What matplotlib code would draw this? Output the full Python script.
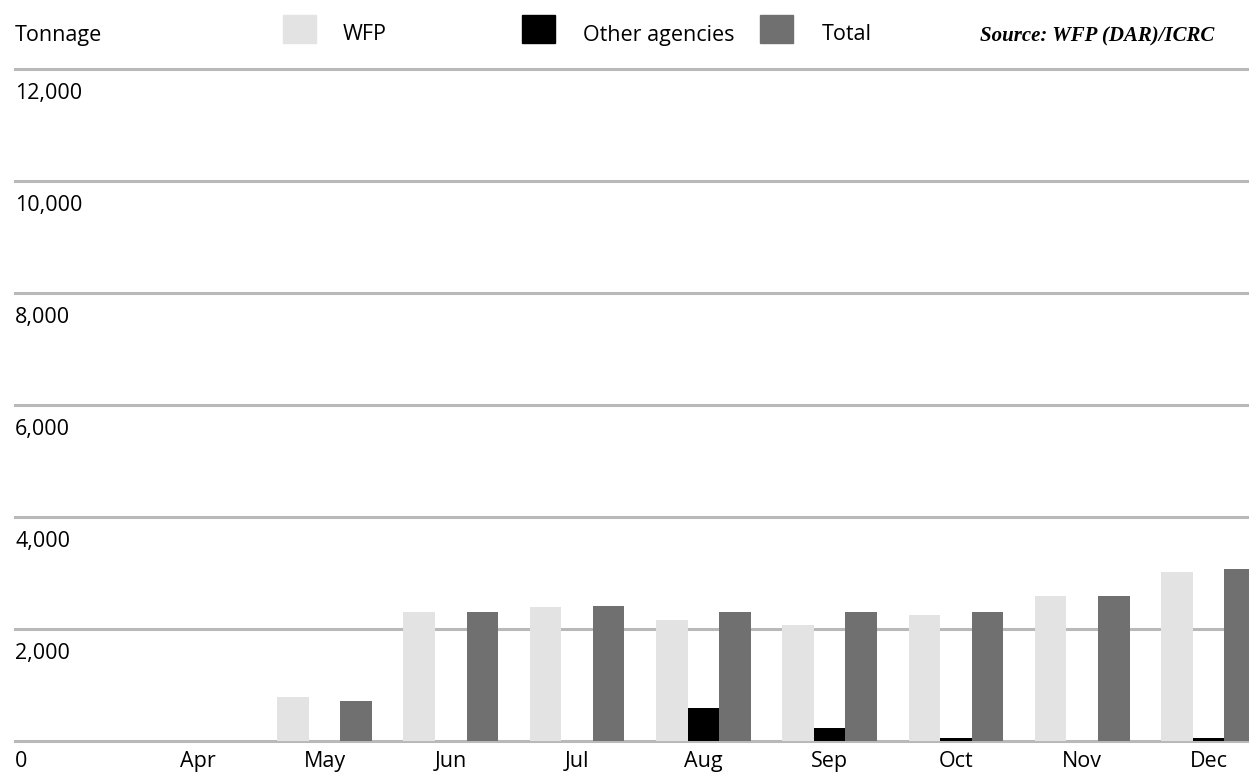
#!/usr/bin/env python3
"""Monthly food tonnage delivered, WFP vs other agencies"""

import numpy as np
import matplotlib
matplotlib.use('Agg')
import matplotlib.pyplot as plt
from matplotlib.patches import Rectangle
import matplotlib.transforms as mtransforms

# data (tonnes)
months = ['Apr', 'May', 'Jun', 'Jul', 'Aug', 'Sep', 'Oct', 'Nov', 'Dec']
wfp = [0, 790, 2310, 2400, 2160, 2070, 2250, 2590, 3020]
other = [0, 0, 0, 0, 595, 238, 50, 0, 50]
total = [0, 720, 2298, 2411, 2298, 2298, 2298, 2589, 3071]
yticks = [2000, 4000, 6000, 8000, 10000, 12000]

C_WFP = '#e3e3e3'
C_OTHER = '#000000'
C_TOTAL = '#707070'
C_GRID = '#b9b9b9'
FS = 15.5

plt.rcParams['font.family'] = ['Open Sans', 'DejaVu Sans']

fig = plt.figure(figsize=(12.49, 7.72), dpi=100)
ax = fig.add_axes([15 / 1249, 1 - 741 / 772, 1 - 15 / 1249, (741 - 69) / 772])

x = np.arange(len(months))
w = 0.25
ax.bar(x - w, wfp, width=w, color=C_WFP, zorder=3)
ax.bar(x, other, width=w, color=C_OTHER, zorder=3)
ax.bar(x + w, total, width=w, color=C_TOTAL, zorder=3)

ax.set_xlim(-1.45, 8.32)
ax.set_ylim(0, 12000)

# horizontal rules with labels sitting under them
for v in [0] + yticks:
    ax.axhline(v, color=C_GRID, lw=2.2, zorder=1, clip_on=False)
blend = mtransforms.blended_transform_factory(ax.transAxes, ax.transData)
for v in [0] + yticks:
    dy = -15 if v == 0 else -17.5   # keep the bottom label inside the canvas
    ax.annotate(f"{v:,}", xy=(0, v), xycoords=blend, xytext=(0, dy),
                textcoords='offset points', ha='left', va='center', fontsize=FS)

ax.set_xticks(x)
ax.set_xticklabels(months, fontsize=FS)
ax.tick_params(axis='x', length=0, pad=7)
ax.set_yticks([])
for s in ax.spines.values():
    s.set_visible(False)

# header: axis title, legend and source
fig.text(15 / 1249, 1 - 35 / 772, 'Tonnage', fontsize=FS, va='center', ha='left')
legend_items = [(283, 343, C_WFP, 'WFP'),
                (522, 583, C_OTHER, 'Other agencies'),
                (760, 822, C_TOTAL, 'Total')]
for px, tx, col, lab in legend_items:
    fig.add_artist(Rectangle((px / 1249, 1 - 43 / 772), 33 / 1249, 28 / 772,
                             transform=fig.transFigure, color=col))
    fig.text(tx / 1249, 1 - 35 / 772, lab, fontsize=FS, va='center', ha='left')
fig.text(980 / 1249, 1 - 36 / 772, 'Source: WFP (DAR)/ICRC', fontsize=15,
         family='Liberation Serif', style='italic', weight='bold',
         va='center', ha='left')

plt.savefig('out.png', dpi=100)
